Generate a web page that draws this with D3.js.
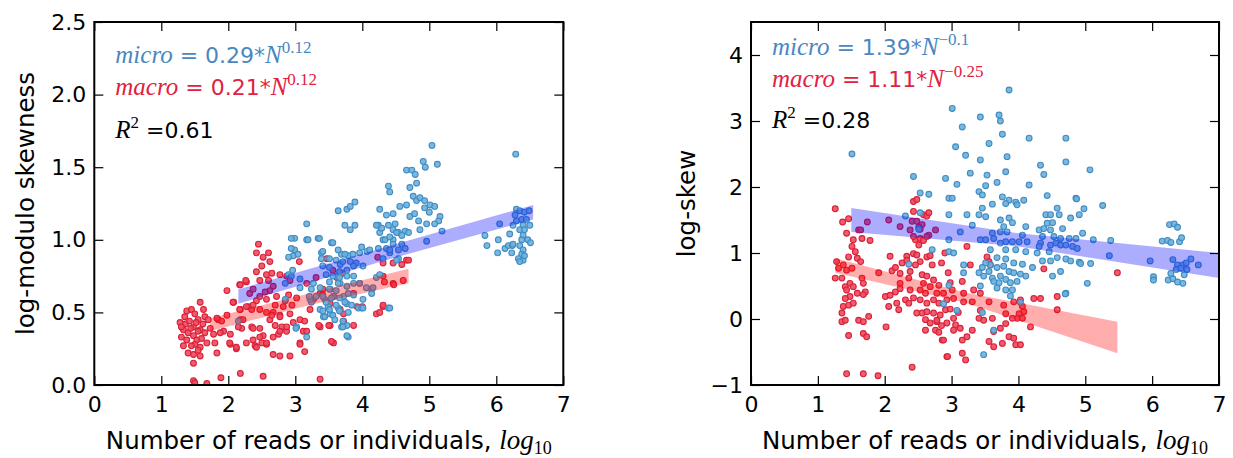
<!DOCTYPE html>
<html><head><meta charset="utf-8">
<script src="https://cdn.jsdelivr.net/npm/d3@7"></script>
<style>body{margin:0;background:#fff}svg{display:block}</style>
</head><body><svg id="c" width="1233" height="458"></svg>
<script>
// ---------------- DATA ----------------
const xTicks = [0,1,2,3,4,5,6,7];
const leftYTicks = [0,0.5,1.0,1.5,2.0,2.5];
const rightYTicks = [-1,0,1,2,3,4];

const leftMacro = [[1.28,0.43],[1.35,0.47],[1.38,0.51],[1.45,0.52],[1.58,0.57],[1.63,0.52],[1.50,0.49],[1.55,0.45],[1.65,0.47],[1.70,0.45],[1.33,0.38],[1.40,0.36],[1.30,0.33],[1.48,0.40],[1.58,0.38],[1.65,0.36],[1.48,0.34],[1.53,0.31],[1.60,0.32],[1.33,0.27],[1.50,0.28],[1.58,0.26],[1.40,0.22],[1.48,0.21],[1.58,0.20],[1.48,0.15],[1.78,0.35],[1.80,0.29],[1.83,0.22],[1.85,0.45],[1.90,0.44],[1.98,0.65],[1.93,0.37],[2.03,0.35],[2.03,0.28],[2.12,0.25],[1.36,0.42],[1.42,0.44],[1.30,0.40],[1.44,0.39],[1.52,0.43],[1.62,0.42],[1.55,0.37],[1.38,0.31],[1.68,0.29],[1.73,0.39],[1.88,0.36],[1.98,0.48],[1.83,0.46],[1.45,0.27],[1.55,0.24],
[1.48,0.03],[1.50,0.015],[1.68,0.01],[1.89,0.05],[2.18,0.08],[2.52,0.06],[3.37,0.04],
[2.45,0.97],[2.42,0.91],[2.52,0.88],[2.60,0.91],[2.62,0.85],[2.50,0.82],[2.42,0.78],[2.57,0.76],[2.65,0.77],[2.77,0.76],[2.47,0.72],[2.60,0.72],[2.27,0.71],[2.17,0.69],[2.08,0.57],[2.18,0.52],[2.18,0.69],[2.26,0.72],[2.18,0.45],[2.20,0.39],[2.35,0.40],[2.47,0.39],[2.40,0.27],[2.50,0.29],[2.57,0.28],[2.67,0.21],[2.77,0.20],[2.30,0.54],[2.35,0.52],[2.47,0.52],[2.42,0.58],[2.47,0.61],[2.57,0.59],[2.57,0.50],[2.67,0.50],[2.77,0.48],[2.62,0.45],[2.70,0.41],[2.80,0.40],[2.75,0.35],[2.52,0.34],[2.87,0.37],[2.32,0.63],[2.67,0.68],[2.62,0.65],[2.87,0.75],[2.92,0.72],[2.72,0.61],[2.82,0.54],[2.92,0.49],[2.77,0.47],[2.65,0.48],[2.37,0.55],[2.27,0.54],[2.17,0.52],[2.07,0.57],[2.22,0.45],[2.15,0.40],[2.37,0.39],[2.47,0.33],[2.57,0.29],[2.67,0.33],[2.77,0.37],[2.87,0.40],[2.97,0.43],[3.07,0.45],[3.12,0.37],[3.07,0.29],[2.92,0.20],[2.42,0.26],[2.27,0.29],[2.02,0.29],[2.12,0.26],[2.37,0.31],[2.37,0.66],[2.55,0.64],[2.85,0.58],[2.95,0.55],[2.70,0.55],[2.90,0.62],
[3.06,0.85],[3.47,0.87],[3.17,0.70],[3.27,0.59],[3.37,0.63],[3.52,0.56],[3.57,0.61],[3.67,0.52],[3.37,0.40],[3.52,0.41],[3.72,0.44],[3.57,0.29],[3.72,0.49],[3.92,0.54],[3.87,0.63],[3.62,0.74],[4.21,0.49],[4.31,0.54],[4.46,0.70],[4.31,0.75],[4.23,0.88],[4.66,0.86],[4.61,0.72],[4.31,0.84],[4.46,0.84],[4.59,0.83],[4.69,0.86],[4.33,0.71],[4.47,0.69],[4.31,0.55],[4.26,0.50],[3.54,0.30],[3.14,0.23],[3.07,0.28],[3.17,0.37],[3.14,0.44],[3.35,0.41],[3.50,0.41],[3.72,0.42],[3.87,0.41],[4.00,0.54],[3.41,0.66],[3.41,0.62],[3.31,0.74],[3.56,0.79],[3.71,0.77],[3.96,0.70],[3.22,0.52],[3.02,0.60]];

const leftMicro = [[2.97,0.89],[2.99,0.93],[2.99,1.01],[3.17,1.11],[3.17,1.00],[3.34,1.01],[3.39,0.91],[3.54,0.98],[3.64,1.20],[3.77,1.21],[3.82,1.23],[3.89,1.26],[3.74,1.10],[3.82,1.07],[3.89,1.10],[3.99,0.95],[4.07,0.92],[4.11,0.93],[3.69,0.90],[3.67,0.83],[3.79,0.89],[3.86,0.90],[3.91,0.84],[4.01,0.82],[3.62,0.75],[3.67,0.70],[3.52,0.66],[3.57,0.61],[3.72,0.61],[3.77,0.56],[3.64,0.53],[3.52,0.49],[3.42,0.47],[3.49,0.54],[3.77,0.41],[3.69,0.40],[3.79,0.33],[3.94,0.53],[3.99,0.53],[4.14,0.66],[4.21,0.74],[4.26,0.76],[4.39,0.53],[4.31,0.87],[4.41,0.91],[4.54,0.87],[4.59,0.97],[4.26,1.21],[4.36,1.17],[4.46,1.18],[4.56,1.23],[4.66,1.24],[4.24,1.10],[4.39,1.10],[4.46,1.07],[4.54,1.05],[4.64,1.06],[4.71,1.16],[4.78,1.18],[4.26,1.05],[4.31,1.00],[4.36,0.94],[4.46,1.00],[4.69,1.05],[3.37,0.67],[3.24,0.66],[3.07,0.67],[3.02,0.40],[3.17,0.33],[2.90,0.76],[2.94,0.75],[2.85,0.70],[3.27,0.70],[3.24,0.57],[3.37,0.52],[3.44,0.59],[3.22,0.59],[2.90,0.88],[2.85,0.59],[2.15,0.44],
[4.66,1.48],[4.74,1.48],[4.79,1.45],[4.81,1.39],[4.71,1.36],[4.76,1.30],[4.81,1.27],[4.39,1.37],[4.41,1.33],[4.84,1.13],[4.21,1.10],[4.29,1.08],[4.49,1.11],[4.51,1.05],[4.59,1.03],[4.34,1.00],[4.41,1.02],[4.46,0.97],[4.24,0.94],[4.64,0.94],[4.51,0.86],[4.41,0.93],[4.54,0.93],
[3.36,1.01],[3.19,1.00],[2.94,1.01],[2.94,0.94],[3.04,0.90],[2.96,0.79],[3.07,0.73],[3.41,0.92],[3.56,0.98],[3.64,0.93],[3.74,0.90],[3.96,0.91],[3.39,0.87],[3.51,0.87],[3.61,0.86],[3.71,0.85],[3.82,0.85],[3.41,0.82],[3.51,0.81],[3.66,0.78],[3.77,0.79],[3.87,0.82],[3.46,0.76],[3.56,0.75],[3.66,0.74],[3.77,0.75],[3.87,0.75],[3.51,0.71],[3.64,0.70],[3.77,0.68],[3.87,0.70],[3.96,0.70],[4.06,0.67],[4.16,0.67],[3.51,0.66],[3.61,0.65],[3.41,0.61],[3.54,0.60],[3.66,0.60],[3.79,0.63],[3.87,0.62],[4.14,0.63],[3.21,0.61],[3.31,0.61],[3.46,0.57],[3.61,0.55],[3.74,0.57],[3.84,0.55],[3.41,0.51],[3.51,0.52],[3.66,0.51],[3.79,0.50],[3.44,0.47],[3.56,0.48],[4.01,0.53],[3.59,0.45],[3.71,0.44],[3.71,0.40],[3.77,0.34],[4.41,0.53],[3.01,0.39],[4.01,0.59],
[5.04,1.65],[4.91,1.54],[4.94,1.50],[5.12,1.52],[6.29,1.59],[4.86,1.29],[4.93,1.27],[5.01,1.24],[5.08,1.23],[4.93,1.22],[5.00,1.19],[5.16,1.16],[5.14,1.13],[5.08,1.11],[4.96,1.11],[5.19,1.06],[4.86,1.07],[4.96,0.99],[6.05,1.11],[5.83,1.03],[5.86,0.96],[6.03,1.00],[6.02,0.91],[6.20,1.04],[6.13,0.94],[6.18,0.96],[6.24,0.96],[6.23,0.91],[6.30,1.21],[6.28,1.17],[6.35,1.20],[6.42,1.19],[6.49,1.20],[6.30,1.13],[6.38,1.14],[6.45,1.14],[6.25,1.10],[6.40,1.10],[6.50,1.10],[6.35,1.07],[6.42,1.07],[6.40,1.03],[6.38,1.00],[6.47,1.00],[6.51,0.98],[6.35,0.96],[6.40,0.93],[6.38,0.90],[6.33,0.87],[6.40,0.86],[6.35,0.85],[6.42,0.89],[6.25,0.97]];

const rightMacro = [[1.26,1.67],[1.37,1.47],[1.46,1.52],[1.43,1.30],[1.61,1.35],[1.66,1.22],[1.53,1.20],[1.51,1.10],[1.56,1.02],[1.59,0.92],[1.64,0.87],[1.46,0.94],[1.28,0.87],[1.31,0.77],[1.38,0.82],[1.43,0.74],[1.51,0.77],[1.36,0.62],[1.26,0.62],[1.78,1.19],[1.41,0.49],[1.48,0.54],[1.53,0.49],[1.43,0.44],[1.48,0.34],[1.41,0.31],[1.38,0.19],[1.46,0.21],[1.53,0.24],[1.59,0.39],[1.66,0.62],[1.68,0.54],[1.71,0.41],[1.68,0.37],[1.36,0.09],[1.36,-0.04],[1.41,-0.02],[1.61,-0.02],[1.68,-0.04],[1.76,0.04],[1.46,-0.25],[1.68,-0.22],[1.73,-0.27],[1.43,-0.83],[1.68,-0.83],[1.90,-0.86],[2.41,-0.73],[2.02,-0.12],[1.91,0.70],[2.06,0.19],[2.01,0.34],[2.08,0.36],[2.16,0.41],[2.11,0.73],[2.08,0.95],[2.26,0.85],[2.33,0.95],[2.16,0.78],[2.23,0.69],[2.23,0.54],[2.23,0.46],[2.18,0.24],[2.21,0.14],[2.31,0.29],[2.36,0.24],[2.43,0.32],[2.38,0.44],[2.36,0.62],[2.38,0.72],[2.33,0.89],[2.46,1.20],[2.43,0.99],[2.48,0.97],[2.53,0.87],[2.46,0.82],[2.63,0.94],[2.71,0.82],[2.56,0.67],[2.63,0.65],[2.73,0.59],[2.58,0.54],[2.68,0.49],[2.81,0.51],[2.53,0.44],[2.61,0.39],[2.78,0.39],[2.88,0.39],[2.53,0.29],[2.63,0.24],[2.73,0.29],[2.81,0.24],[2.93,0.29],[2.48,0.09],[2.56,0.09],[2.63,0.11],[2.73,0.09],[2.83,0.06],[2.91,0.14],[2.61,-0.01],[2.68,-0.06],[2.78,-0.04],[2.76,-0.17],[2.81,-0.20],[2.61,-0.17],[2.86,-0.32],[2.93,-0.57],[2.93,-0.06],[2.43,1.78],[2.48,1.81],[2.43,1.63],[2.41,1.48],[2.48,1.48],[2.56,1.43],[2.53,1.36],[2.58,1.58],[2.63,1.56],[2.66,1.61],[2.43,1.25],[2.53,1.22],[2.58,1.19],[2.51,1.12],[2.66,1.27],[2.68,0.96],[2.51,1.39],[2.38,1.35],[2.23,1.40],[2.06,1.50],[1.74,1.47],[1.64,1.35],[2.76,1.35],[2.63,1.25],
[3.23,1.10],[3.28,0.82],[3.53,0.94],[3.56,0.87],[3.58,0.82],[3.16,0.57],[3.01,0.44],[3.03,0.31],[3.18,0.39],[3.33,0.44],[3.43,0.39],[3.56,0.26],[3.18,0.26],[3.31,0.26],[3.78,0.21],[3.93,0.26],[4.03,0.29],[4.06,0.19],[4.08,0.11],[4.01,0.08],[3.98,0.01],[4.06,0.01],[3.91,0.01],[3.81,0.08],[3.43,0.13],[3.41,0.01],[3.48,-0.02],[3.61,0.01],[3.03,0.01],[3.06,-0.09],[3.13,-0.14],[3.03,-0.17],[3.31,-0.17],[3.73,-0.14],[3.81,-0.07],[4.18,-0.12],[3.63,-0.19],[3.16,-0.32],[3.23,-0.27],[3.56,-0.34],[3.63,-0.42],[3.76,-0.37],[3.86,-0.27],[3.93,-0.29],[3.96,-0.39],[4.03,-0.39],[3.16,-0.52],[3.21,-0.62],[4.23,0.31],[4.33,0.31],[4.58,0.34],[4.58,0.14],[4.38,0.76],[5.48,0.70],[2.94,-0.57],[2.88,-0.32],[2.78,-0.02],[2.98,0.55],[2.95,0.70],[2.85,0.85],[2.90,1.00],[2.98,0.15],[2.85,-0.10],[3.10,0.10]];

const rightMicro = [[1.51,2.50],[2.43,2.16],[2.53,1.91],[2.66,1.89],[2.91,2.13],[2.96,1.83],[2.96,1.58],[2.31,1.56],[2.53,1.61],[2.51,1.36],[2.71,1.05],[2.36,0.83],[2.96,0.51],[2.88,0.23],[2.96,1.20],[2.96,1.02],
[3.86,3.47],[3.01,3.19],[3.43,3.06],[3.71,3.09],[3.73,3.00],[3.16,2.91],[3.76,2.80],[4.16,2.74],[4.71,2.74],[3.06,2.61],[3.56,2.66],[3.21,2.48],[3.43,2.41],[3.83,2.46],[4.71,2.38],[4.33,2.33],[3.28,2.21],[3.53,2.18],[3.81,2.23],[4.38,2.19],[3.08,2.04],[3.51,2.02],[3.68,2.07],[4.16,2.03],[3.41,1.93],[3.46,1.88],[3.76,1.85],[3.86,1.80],[3.96,1.77],[4.08,1.80],[3.81,1.75],[3.98,1.73],[4.43,1.87],[4.86,1.83],[3.01,1.83],[3.61,1.74],[3.46,1.68],[3.23,1.58],[3.41,1.58],[3.51,1.55],[3.73,1.50],[3.86,1.53],[3.91,1.46],[3.78,1.40],[3.31,1.42],[4.11,1.40],[4.41,1.58],[4.48,1.58],[4.58,1.68],[4.61,1.58],[4.78,1.53],[4.91,1.58],[4.43,1.45],[4.51,1.46],[4.31,1.35],[4.38,1.37],[4.48,1.35],[4.66,1.37],[3.61,1.30],[3.73,1.32],[3.83,1.32],[4.06,1.27],[4.36,1.25],[4.53,1.25],[4.63,1.22],[4.76,1.22],[4.86,1.22],[3.63,1.22],[3.43,1.20],[3.51,1.20],[3.73,1.15],[3.81,1.17],[3.91,1.17],[4.01,1.17],[4.13,1.17],[4.33,1.15],[4.48,1.12],[4.56,1.15],[4.63,1.12],[4.71,1.12],[4.81,1.10],[4.88,1.07],[4.31,1.10],[3.13,1.32],[3.03,1.00],[3.58,1.05],[3.81,1.05],[3.96,1.05],[4.11,1.02],[4.28,1.00],[4.46,1.02],[4.58,0.93],[4.71,0.91],[4.78,0.88],[4.91,0.86],[4.36,0.88],[4.48,0.88],[4.21,0.78],[4.06,0.83],[3.93,0.85],[3.81,0.91],[3.68,0.93],[3.58,0.82],[3.51,0.85],[3.46,0.78],[3.56,0.72],[3.68,0.78],[3.78,0.80],[3.86,0.72],[3.93,0.70],[4.03,0.68],[4.11,0.65],[3.41,0.70],[3.48,0.65],[3.61,0.62],[3.73,0.65],[3.81,0.60],[3.88,0.55],[3.98,0.57],[3.71,0.55],[3.63,0.57],[4.51,0.65],[4.63,0.72],[4.71,0.39],[3.18,0.82],[3.18,0.70],[3.81,0.44],[3.91,0.44],[3.68,0.47],[3.43,0.50],[3.88,0.35],[4.03,0.25],[3.08,0.13],[3.63,-0.17],[3.46,0.10],[3.48,-0.54],
[5.07,2.26],[5.26,1.72],[4.98,1.67],[4.87,1.82],[5.12,1.20],[5.36,0.96],[5.03,0.54],[4.93,0.84],[5.08,0.84],[5.38,1.19],[4.96,1.30],[4.70,0.38],[5.97,0.88],[6.02,0.64],[6.02,0.59],[6.15,1.18],[6.23,1.19],[6.28,1.16],[6.41,1.17],[6.44,1.23],[6.26,1.43],[6.33,1.44],[6.38,1.39],[6.31,0.90],[6.38,0.82],[6.46,0.82],[6.51,0.85],[6.58,0.91],[6.69,0.82],[6.36,0.75],[6.43,0.77],[6.52,0.75],[6.24,0.59],[6.31,0.61],[6.38,0.56],[6.46,0.54],[6.28,0.69],[6.48,0.67]];

// confidence bands of the fits
const leftMicroFitX  = [2.15, 4.35, 6.55];
const leftMicroFitLo = [0.56, 0.86, 1.14];
const leftMicroFitHi = [0.66, 0.95, 1.24];
const leftMacroFitX  = [1.73, 3.2, 4.69];
const leftMacroFitLo = [0.37, 0.55, 0.70];
const leftMacroFitHi = [0.46, 0.63, 0.80];
const rightMicroFitX  = [1.5, 4.0, 7.0];
const rightMicroFitLo = [1.32, 1.10, 0.62];
const rightMicroFitHi = [1.68, 1.30, 1.00];
const rightMacroFitX  = [1.26, 3.2, 5.48];
const rightMacroFitLo = [0.70, 0.25, -0.52];
const rightMacroFitHi = [0.92, 0.40, -0.04];

const leftEq  = {micro:["0.29","0.12"], macro:["0.21","0.12"], r2:"0.61"};
const rightEq = {micro:["1.39","\u22120.1"], macro:["1.11","\u22120.25"], r2:"0.28"};

// ---------------- DRAW ----------------
const svg = d3.select("#c");
const SANS = "DejaVu Sans, sans-serif";
const SERIF = "Liberation Serif, serif";
const BLUE_T = "#4a87bf", RED_T = "#e0213f";

function panel(cfg){
  const x = d3.scaleLinear().domain([0,7]).range(cfg.xr);
  const y = d3.scaleLinear().domain(cfg.yd).range([385,22]);
  const g = svg.append("g");
  const id = "clip"+cfg.name;
  svg.append("clipPath").attr("id",id).append("rect")
    .attr("x",cfg.xr[0]).attr("y",22).attr("width",cfg.xr[1]-cfg.xr[0]).attr("height",363);
  const pts = g.append("g").attr("clip-path",`url(#${id})`);
  const drawPts = (data, fill, stroke) => pts.append("g").selectAll("circle").data(data).join("circle")
      .attr("cx",d=>x(d[0])).attr("cy",d=>y(d[1])).attr("r",2.9)
      .attr("fill",fill).attr("stroke",stroke).attr("stroke-width",1.1).attr("fill-opacity",0.9);
  drawPts(cfg.macro,"#ee4a5c","#d8203a");
  drawPts(cfg.micro,"#6db0db","#3f8cc3");
  const band = (xs,lo,hi,col) => {
    const d = xs.map((v,i)=>({x:v,lo:lo[i],hi:hi[i]}));
    pts.append("path").datum(d)
      .attr("d",d3.area().x(p=>x(p.x)).y0(p=>y(p.lo)).y1(p=>y(p.hi)))
      .attr("fill",col).attr("fill-opacity",0.32);
  };
  band(cfg.mfx,cfg.mflo,cfg.mfhi,"#0000ff");
  band(cfg.afx,cfg.aflo,cfg.afhi,"#ff0000");

  // axes with inward ticks
  const ax = (gen, tr) => {
    const a = g.append("g").attr("transform",tr).call(gen);
    a.select(".domain").remove();
    a.selectAll("line").attr("stroke","#000").attr("stroke-width",1.2);
    a.selectAll("text").attr("font-family",SANS).attr("font-size",22).attr("fill","#000");
    return a;
  };
  ax(d3.axisBottom(x).tickValues(xTicks).tickSize(-9).tickPadding(11).tickFormat(d3.format("d")), `translate(0,385)`);
  ax(d3.axisTop(x).tickValues(xTicks).tickSize(-9).tickFormat(""), `translate(0,22)`);
  ax(d3.axisLeft(y).tickValues(cfg.yt).tickSize(-9).tickPadding(8).tickFormat(cfg.yf), `translate(${cfg.xr[0]},0)`);
  ax(d3.axisRight(y).tickValues(cfg.yt).tickSize(-9).tickFormat(""), `translate(${cfg.xr[1]},0)`);
  g.append("rect").attr("x",cfg.xr[0]).attr("y",22).attr("width",cfg.xr[1]-cfg.xr[0]).attr("height",363)
    .attr("fill","none").attr("stroke","#000").attr("stroke-width",2);

  // equations
  const tx = cfg.xr[0]+21;
  const eq = (yb, name, vals, col) => {
    const t = g.append("text").attr("x",tx).attr("y",yb).attr("fill",col).attr("font-size",22);
    t.append("tspan").attr("font-family",SERIF).attr("font-style","italic").attr("font-size",25).text(name);
    t.append("tspan").attr("font-family",SANS).text(" = "+vals[0]+"*");
    t.append("tspan").attr("font-family",SERIF).attr("font-style","italic").attr("font-size",25).text("N");
    t.append("tspan").attr("font-family",SERIF).attr("font-size",17).attr("dy",-10).text(vals[1]);
  };
  eq(cfg.eqY[0],"micro",cfg.eq.micro,BLUE_T);
  eq(cfg.eqY[1],"macro",cfg.eq.macro,RED_T);
  const r = g.append("text").attr("x",tx).attr("y",cfg.eqY[2]).attr("fill","#000").attr("font-size",22);
  r.append("tspan").attr("font-family",SERIF).attr("font-style","italic").attr("font-size",25).text("R");
  r.append("tspan").attr("font-family",SERIF).attr("font-size",17).attr("dy",-10).text("2");
  r.append("tspan").attr("font-family",SANS).attr("dy",10).text(" =" + cfg.eq.r2);

  // axis labels
  const cx = (cfg.xr[0]+cfg.xr[1])/2;
  const xl = g.append("text").attr("x",cx).attr("y",449).attr("text-anchor","middle").attr("font-size",24.5).attr("fill","#000");
  xl.append("tspan").attr("font-family",SANS).text("Number of reads or individuals, ");
  xl.append("tspan").attr("font-family",SERIF).attr("font-style","italic").attr("font-size",27).text("log");
  xl.append("tspan").attr("font-family",SERIF).attr("font-size",18).attr("dy",5).text("10");
  g.append("text").attr("transform",`translate(${cfg.ylx},203.5) rotate(-90)`).attr("text-anchor","middle")
    .attr("font-family",SANS).attr("font-size",24.5).attr("fill","#000").text(cfg.ylabel);
}

panel({name:"L", xr:[94.3,563.3], yd:[0,2.5], yt:leftYTicks, yf:d3.format(".1f"),
  macro:leftMacro, micro:leftMicro,
  mfx:leftMicroFitX, mflo:leftMicroFitLo, mfhi:leftMicroFitHi,
  afx:leftMacroFitX, aflo:leftMacroFitLo, afhi:leftMacroFitHi,
  eq:leftEq, eqY:[63,95,138], ylabel:"log-modulo skewness", ylx:34});
panel({name:"R", xr:[751,1219], yd:[-1,4.5], yt:rightYTicks, yf:d3.format("d"),
  macro:rightMacro, micro:rightMicro,
  mfx:rightMicroFitX, mflo:rightMicroFitLo, mfhi:rightMicroFitHi,
  afx:rightMacroFitX, aflo:rightMacroFitLo, afhi:rightMacroFitHi,
  eq:rightEq, eqY:[55,87,128], ylabel:"log-skew", ylx:695});
</script></body></html>
